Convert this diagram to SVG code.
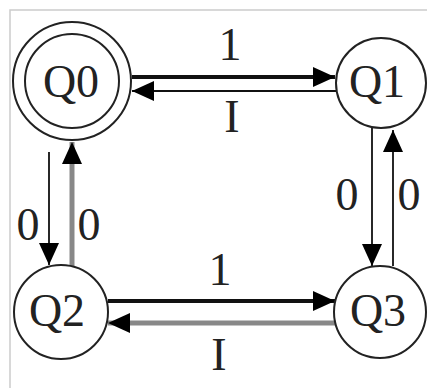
<svg xmlns="http://www.w3.org/2000/svg" width="427" height="388" viewBox="0 0 427 388">
<style>
.st{fill:none;stroke:#222;stroke-width:2}
.t{font-family:"Liberation Serif","Times New Roman",serif;font-size:46px;fill:#222;text-anchor:middle}
.thin{stroke:#111;stroke-width:1.8;fill:none}
.thick{stroke:#111;stroke-width:4;fill:none}
.gray{stroke:#888;stroke-width:5;fill:none}
</style>
<defs>
<marker id="ah" markerUnits="userSpaceOnUse" markerWidth="22" markerHeight="20" refX="22" refY="10" orient="auto">
<path d="M0,0 L22,10 L0,20 z" fill="#000"/>
</marker>
</defs>
<rect width="427" height="388" fill="#fff"/>
<path d="M10,388 V10 H427" fill="none" stroke="#ccc" stroke-width="1.5"/>
<g id="connectors">
<line class="thick" x1="132" y1="77" x2="335" y2="77" marker-end="url(#ah)"/>
<line class="thin" x1="336" y1="91" x2="132" y2="91" marker-end="url(#ah)"/>
<line class="thin" x1="49" y1="152" x2="49" y2="265" marker-end="url(#ah)"/>
<line class="gray" x1="72" y1="266" x2="72" y2="142" marker-end="url(#ah)"/>
<line class="thin" x1="372" y1="128" x2="372" y2="266" marker-end="url(#ah)"/>
<line class="thin" x1="393" y1="266" x2="393" y2="130" marker-end="url(#ah)"/>
<line class="thick" x1="108" y1="301" x2="335" y2="301" marker-end="url(#ah)"/>
<line class="gray" x1="336" y1="323" x2="108" y2="323" marker-end="url(#ah)"/>
<text class="t" x="230" y="60">1</text>
<text class="t" x="232" y="132">I</text>
<text class="t" x="28" y="240">0</text>
<text class="t" x="89" y="240">0</text>
<text class="t" x="347" y="210">0</text>
<text class="t" x="409" y="210">0</text>
<text class="t" x="220" y="285">1</text>
<text class="t" x="219" y="370">I</text>
</g>
<g id="Q0">
<circle class="st" cx="72" cy="81" r="59"/>
<circle class="st" cx="72" cy="81" r="47"/>
<text class="t" x="71" y="97">Q0</text>
</g>
<g id="Q1">
<circle class="st" cx="381" cy="83" r="45"/>
<text class="t" x="377" y="97">Q1</text>
</g>
<g id="Q2">
<circle class="st" cx="61" cy="312" r="47"/>
<text class="t" x="57" y="326">Q2</text>
</g>
<g id="Q3">
<circle class="st" cx="380" cy="312" r="46"/>
<text class="t" x="378" y="326">Q3</text>
</g>
</svg>
